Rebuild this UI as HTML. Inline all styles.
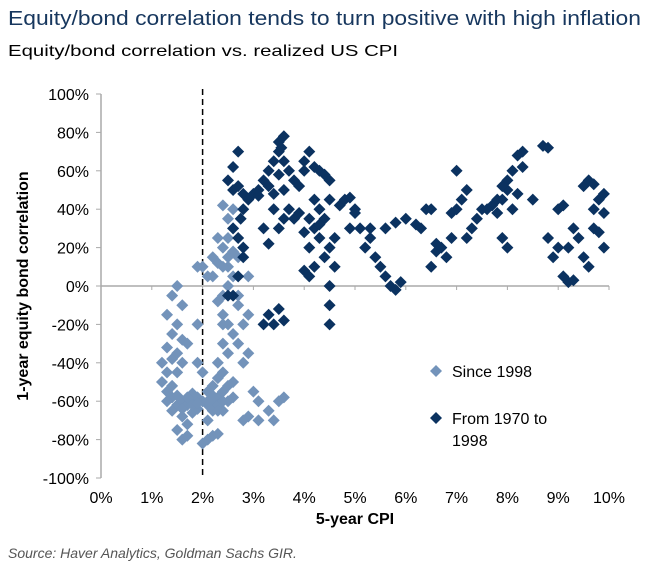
<!DOCTYPE html>
<html><head><meta charset="utf-8"><style>
body{margin:0;background:#fff}
svg{display:block;font-family:"Liberation Sans",Arial,sans-serif}
</style></head><body>
<svg id="chart" width="657" height="574" viewBox="0 0 657 574" xmlns="http://www.w3.org/2000/svg">
<text x="8" y="25" font-size="20" fill="#17375e" textLength="633" lengthAdjust="spacingAndGlyphs">Equity/bond correlation tends to turn positive with high inflation</text>
<text x="8" y="56" font-size="16" fill="#000" textLength="390" lengthAdjust="spacingAndGlyphs">Equity/bond correlation vs. realized US CPI</text>
<g id="axes"></g>
<g id="marks"></g>
<text transform="translate(28,286) rotate(-90)" text-anchor="middle" font-size="16" font-weight="bold">1-year equity bond correlation</text>
<text x="355" y="524" text-anchor="middle" font-size="16" font-weight="bold">5-year CPI</text>
<g>
<path d="M436 365 l6 6 l-6 6 l-6 -6z" fill="#7393ba"/>
<text x="452" y="377" font-size="16">Since 1998</text>
<path d="M436 412 l6 6 l-6 6 l-6 -6z" fill="#0b3260"/>
<text x="452" y="424" font-size="16">From 1970 to</text>
<text x="452" y="446" font-size="16">1998</text>
</g>
<text x="8" y="558" font-size="14" font-style="italic" fill="#555">Source: Haver Analytics, Goldman Sachs GIR.</text>
</svg>
<script>
const xTicks=[0,1,2,3,4,5,6,7,8,9,10];
const yTicks=[100,80,60,40,20,0,-20,-40,-60,-80,-100];
const since1998=[[1.5,0],[1.4,-5],[1.6,-10],[1.3,-15],[1.5,-20],[1.4,-25],[1.6,-28],[1.3,-32],[1.2,-40],[1.4,-38],[1.3,-45],[1.5,-45],[1.2,-50],[1.4,-52],[1.6,-40],
[1.4,-58],[1.5,-62],[1.6,-60],[1.7,-62],[1.8,-60],[1.9,-58],[1.6,-68],[1.7,-72],[1.8,-66],[1.9,-64],[1.4,-65],[1.3,-60],[1.5,-75],[1.6,-80],[1.7,-78],[2.0,-82],[2.1,-80],[2.2,-78],[2.3,-77],[2.1,-70],
[2.1,-55],[2.2,-60],[2.3,-58],[2.4,-55],[2.5,-60],[2.6,-58],[2.2,-65],[2.4,-65],[2.5,-52],[2.3,-48],[2.4,-45],[2.6,-50],[2.1,-62],[2.0,-60],[1.8,-56],[1.7,-58],[2.2,-52],
[2.4,-15],[2.5,-20],[2.6,-25],[2.7,-10],[2.4,-30],[2.5,-35],[2.3,-40],[2.8,-20],[2.7,-30],[2.9,-15],
[2.0,10],[2.2,15],[2.1,5],[2.3,12],[2.4,20],[2.5,25],[2.5,35],[2.6,40],[2.4,42],[2.6,30],[2.7,15],[2.6,5],[2.5,0],[2.4,-5],[2.3,-8],[2.7,-5],[2.8,20],[2.9,5],[1.9,10],[2.2,5],[2.5,10],[2.6,18],
[3.0,-55],[3.1,-60],[3.1,-70],[3.3,-65],[3.4,-70],[3.5,-60],[3.6,-58],[2.8,-70],[2.9,-68],[2.9,-35],[2.8,-40],
[1.9,-20],[1.9,-40],[1.7,-30],[2.0,-45],[1.5,-35],[1.3,-55],
[1.8,-62],[1.9,-61],[2.1,-60],[2.2,-57],[2.3,-62],[1.6,-64],[1.5,-57],[2.4,-60],[2.3,-65],[2.4,10],[2.3,25],[2.5,15],[2.4,-20]];
const from1970=[[2.6,62],[2.7,70],[2.6,50],[2.7,52],[2.5,55],[2.8,48],[2.9,45],[3.0,48],[3.1,47],[2.6,30],[2.7,25],[2.8,20],[2.8,15],[2.7,5],[2.6,-5],[2.5,-5],[2.8,40],[2.75,35],
[3.2,55],[3.3,60],[3.4,65],[3.5,70],[3.5,75],[3.6,78],[3.55,72],[3.3,52],[3.4,48],[3.5,58],[3.7,60],[3.8,55],[3.6,50],[3.7,40],[3.8,35],[3.9,38],[3.5,30],[3.2,30],[3.3,22],[3.6,35],[3.4,40],[3.6,65],[3.1,50],
[3.3,-15],[3.4,-20],[3.5,-12],[3.6,-18],[3.2,-20],
[4.0,65],[4.1,70],[4.2,62],[4.3,60],[4.4,58],[4.5,55],[3.9,52],[4.0,60],[4.2,45],[4.3,40],[4.1,35],[4.2,30],[4.3,25],[4.0,28],[4.1,20],[4.2,10],[4.0,8],[4.1,5],[4.4,15],[4.5,20],[4.6,10],[4.5,0],[4.6,25],[4.5,45],[4.7,42],[4.8,45],[4.9,46],[5.0,38],[4.9,30],[4.5,-10],[4.5,-20],[4.4,35],[4.3,32],
[5.1,30],[5.2,20],[5.3,25],[5.4,15],[5.5,10],[5.6,5],[5.7,0],[5.8,-2],[5.9,2],[5.0,40],[5.3,30],[5.6,30],[5.8,33],[6.0,35],[6.2,32],[6.4,40],[6.5,10],[6.6,18],[6.7,20],[6.8,15],[6.9,25],[7.0,40],[7.1,45],[7.2,50],[7.2,25],[7.3,30],[7.4,35],[7.0,60],[6.9,38],[6.3,30],[6.5,40],[6.6,22],
[7.5,40],[7.7,42],[7.8,38],[7.9,45],[8.0,50],[8.0,55],[8.1,60],[8.2,68],[8.3,70],[8.1,40],[7.9,25],[8.0,20],[8.2,48],[8.3,62],[7.6,40],[8.5,45],[8.7,73],[8.8,72],[7.8,45],[7.9,52],
[8.8,25],[9.0,40],[9.1,42],[9.0,20],[8.9,15],[9.1,5],[9.2,2],[9.3,3],[9.2,20],[9.3,30],[9.4,25],[9.5,52],[9.6,55],[9.7,53],[9.8,45],[9.9,48],[9.7,30],[9.8,28],[9.6,10],[9.9,20],[9.9,38],[9.5,15],[9.7,40]];
const X0=101,X1=609,Y0=478,Y1=94;
const sx=v=>X0+(v-0)/10*(X1-X0);
const sy=v=>Y0-(v+100)/200*(Y0-Y1);
const NS='http://www.w3.org/2000/svg';
const axes=document.getElementById('axes'),marks=document.getElementById('marks');
function mk(tag,attrs,parent){const e=document.createElementNS(NS,tag);for(const k in attrs)e.setAttribute(k,attrs[k]);parent.appendChild(e);return e;}
let yl=mk('line',{x1:X0,y1:Y1,x2:X0,y2:Y0,stroke:'#aaa','stroke-width':1.5},axes);


yTicks.forEach(t=>{
 const y=sy(t);
 let tk=mk('line',{x1:X0-5,y1:y,x2:X0,y2:y,stroke:'#aaa'},axes);
 
 
 let tx=mk('text',{x:X0-12,y:y+6,'text-anchor':'end','font-size':16},axes);
 tx.textContent=t+'%';
 
 
});
let xl=mk('line',{x1:X0,y1:sy(0),x2:X1,y2:sy(0),stroke:'#aaa','stroke-width':1.5},axes);


xTicks.forEach(t=>{
 const x=sx(t);
 let tk=mk('line',{x1:x,y1:sy(0),x2:x,y2:sy(0)+4,stroke:'#aaa'},axes);
 
 
 let tx=mk('text',{x:x,y:503,'text-anchor':'middle','font-size':16},axes);
 tx.textContent=t+'%';
 
 
});
let dl=mk('line',{x1:sx(2),y1:Y1-5,x2:sx(2),y2:Y0,stroke:'#000','stroke-width':1.5,'stroke-dasharray':'6,4'},axes);


function plot(data,color,name){
 data.forEach(d=>{
  const x=sx(d[0]),y=sy(d[1]);
  let p=mk('path',{d:`M${x} ${y-6} l6 6 l-6 6 l-6 -6z`,fill:color},marks);
  
  
 });
}
plot(since1998,'#7393ba','point-since-1998');
plot(from1970,'#0b3260','point-1970-1998');
</script>
</body></html>
